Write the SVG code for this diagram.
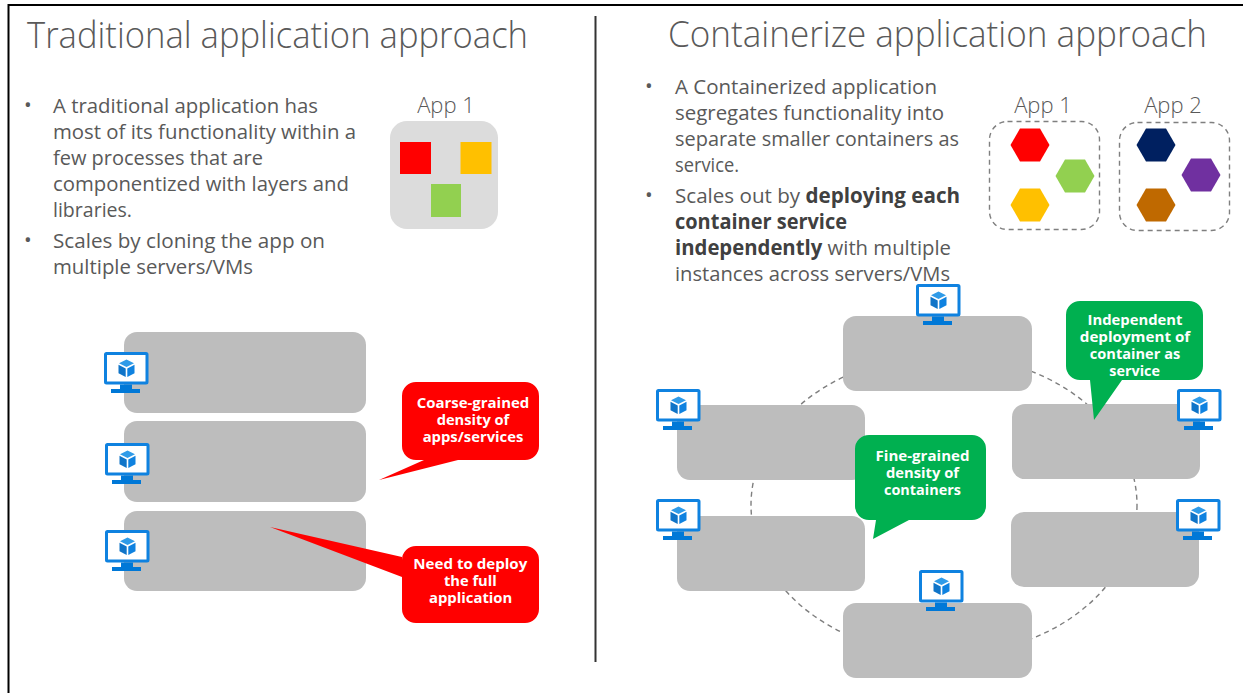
<svg xmlns="http://www.w3.org/2000/svg" xmlns:xlink="http://www.w3.org/1999/xlink" width="1243" height="693" viewBox="0 0 1243 693">
<style>
text{font-family:"Open Sans","Noto Sans","Liberation Sans",sans-serif}
.title{font-size:37px;font-weight:300;fill:#595959}
.body{font-size:20.5px;fill:#595959}
.b{font-weight:700;fill:#404040}
.app{font-size:22px;font-weight:300;fill:#595959;text-anchor:middle}
.call{font-size:14.5px;font-weight:700;fill:#fff}
.srv{fill:#bdbdbd}
.red{fill:#ff0000}
.grn{fill:#00b050}
.dash{fill:none;stroke:#7f7f7f;stroke-width:1.4;stroke-dasharray:5 4}
</style>
<defs>
<symbol id="mon" width="45" height="42" viewBox="0 0 45 42" overflow="visible">
<rect x="1.500" y="1.500" width="41.500" height="29.500" fill="#fff" stroke="#0f82e0" stroke-width="3" rx="1"/>
<path d="M16 32.500h12v4.500h8v4h-29v-4h9z" fill="#0078d7"/>
<path d="M22.500 7.500l7.500 3.800-7.500 3.800-7.500-3.800z" fill="#2f9be8"/>
<path d="M14.500 12.800l7.200 3.700v8.500l-7.200-3.800z" fill="#0f74c8"/>
<path d="M30.500 12.800l-7.200 3.700v8.500l7.200-3.800z" fill="#0f82e0"/>
</symbol>
<polygon id="hex" points="-19.500,0 -10,-16.500 10,-16.500 19.500,0 10,16.500 -10,16.500"/>
</defs>
<rect width="1243" height="693" fill="#fff"/>
<path d="M8.500 693V5H1243" fill="none" stroke="#000" stroke-width="2"/>
<path d="M595.500 16V662" stroke="#333" stroke-width="2" fill="none"/>

<g id="connectors"><ellipse class="dash" cx="944" cy="505" rx="193" ry="150"/></g>

<text class="title" x="27" y="47.500" textLength="501" lengthAdjust="spacingAndGlyphs">Traditional application approach</text>
<text class="title" x="668" y="46.500" textLength="539" lengthAdjust="spacingAndGlyphs">Containerize application approach</text>

<g id="left-text" class="body">
<text x="24" y="112">•</text>
<text x="53" y="112.500" textLength="265" lengthAdjust="spacingAndGlyphs">A traditional application has</text>
<text x="53" y="138.500" textLength="303" lengthAdjust="spacingAndGlyphs">most of its functionality within a</text>
<text x="53" y="164.500" textLength="210" lengthAdjust="spacingAndGlyphs">few processes that are</text>
<text x="53" y="190.500" textLength="296" lengthAdjust="spacingAndGlyphs">componentized with layers and</text>
<text x="53" y="216.500" textLength="79" lengthAdjust="spacingAndGlyphs">libraries.</text>
<text x="24" y="247">•</text>
<text x="53" y="247.500" textLength="272" lengthAdjust="spacingAndGlyphs">Scales by cloning the app on</text>
<text x="53" y="273.500" textLength="200" lengthAdjust="spacingAndGlyphs">multiple servers/VMs</text>
</g>

<g id="right-text" class="body">
<text x="645" y="93">•</text>
<text x="675" y="93.500" textLength="262" lengthAdjust="spacingAndGlyphs">A Containerized application</text>
<text x="675" y="119.500" textLength="269" lengthAdjust="spacingAndGlyphs">segregates functionality into</text>
<text x="675" y="145.500" textLength="284" lengthAdjust="spacingAndGlyphs">separate smaller containers as</text>
<text x="675" y="171.500" textLength="64" lengthAdjust="spacingAndGlyphs">service.</text>
<text x="645" y="202">•</text>
<text x="675" y="202.500" textLength="285" lengthAdjust="spacingAndGlyphs">Scales out by <tspan class="b">deploying each</tspan></text>
<text x="675" y="228.500" class="b" textLength="172" lengthAdjust="spacingAndGlyphs">container service</text>
<text x="675" y="254.500" textLength="276" lengthAdjust="spacingAndGlyphs"><tspan class="b">independently</tspan> with multiple</text>
<text x="675" y="280.500" textLength="275" lengthAdjust="spacingAndGlyphs">instances across servers/VMs</text>
</g>

<g id="app1-traditional">
<text class="app" x="446" y="113">App 1</text>
<rect x="390" y="121" width="108" height="108" rx="17" fill="#dcdcdc"/>
<rect x="400" y="142" width="31" height="32" fill="#ff0000"/>
<rect x="460.500" y="142" width="31" height="32" fill="#ffc000"/>
<rect x="431" y="184" width="30" height="33" fill="#92d050"/>
</g>

<g id="app1-containers">
<text class="app" x="1043" y="113">App 1</text>
<rect class="dash" x="989.500" y="121.500" width="110" height="108" rx="18" stroke-dasharray="7 3"/>
<use xlink:href="#hex" href="#hex" x="1030" y="145" fill="#ff0000"/>
<use xlink:href="#hex" href="#hex" x="1075" y="176" fill="#92d050"/>
<use xlink:href="#hex" href="#hex" x="1030" y="205" fill="#ffc000"/>
</g>
<g id="app2-containers">
<text class="app" x="1173" y="113">App 2</text>
<rect class="dash" x="1119.500" y="122.500" width="110" height="108" rx="18" stroke-dasharray="7 3"/>
<use xlink:href="#hex" href="#hex" x="1156" y="145" fill="#002060"/>
<use xlink:href="#hex" href="#hex" x="1201" y="175" fill="#7030a0"/>
<use xlink:href="#hex" href="#hex" x="1156" y="205" fill="#bf6900"/>
</g>

<g id="server-l1"><rect class="srv" x="124" y="332" width="242" height="81" rx="13"/><use href="#mon" x="104" y="352"/></g>
<g id="server-l2"><rect class="srv" x="124" y="421" width="242" height="81" rx="13"/><use href="#mon" x="105" y="443"/></g>
<g id="server-l3"><rect class="srv" x="124" y="511" width="242" height="80" rx="13"/><use href="#mon" x="105" y="530"/></g>

<g id="server-top"><rect class="srv" x="843" y="316" width="189" height="75" rx="13"/><use href="#mon" x="916" y="284"/></g>
<g id="server-r1"><rect class="srv" x="1012" y="404" width="188" height="75" rx="13"/><use href="#mon" x="1177" y="389"/></g>
<g id="server-r2"><rect class="srv" x="1011" y="512" width="188" height="75" rx="13"/><use href="#mon" x="1176" y="499"/></g>
<g id="server-bottom"><rect class="srv" x="843" y="603" width="189" height="75" rx="13"/><use href="#mon" x="919" y="570"/></g>
<g id="server-l-b"><rect class="srv" x="677" y="516" width="188" height="75" rx="13"/><use href="#mon" x="656" y="499"/></g>
<g id="server-l-a"><rect class="srv" x="677" y="405" width="188" height="75" rx="13"/><use href="#mon" x="656" y="389"/></g>

<g id="callout-coarse">
<path class="red" d="M416 382H525a14 14 0 0 1 14 14V446a14 14 0 0 1-14 14H458L379 480L424 460H416a14 14 0 0 1-14-14V396a14 14 0 0 1 14-14z"/>
<text class="call" x="416.700" y="408" textLength="112.600" lengthAdjust="spacingAndGlyphs">Coarse-grained</text><text class="call" x="436.700" y="425" textLength="72.600" lengthAdjust="spacingAndGlyphs">density of</text><text class="call" x="422.700" y="442" textLength="100.600" lengthAdjust="spacingAndGlyphs">apps/services</text>
</g>
<g id="callout-deploy">
<path class="red" d="M416 546H525a14 14 0 0 1 14 14V609a14 14 0 0 1-14 14H416a14 14 0 0 1-14-14V577L270 527L402 557V560a14 14 0 0 1 14-14z"/>
<text class="call" x="413.300" y="569" textLength="114" lengthAdjust="spacingAndGlyphs">Need to deploy</text><text class="call" x="444" y="586" textLength="52.700" lengthAdjust="spacingAndGlyphs">the full</text><text class="call" x="429" y="603" textLength="83.300" lengthAdjust="spacingAndGlyphs">application</text>
</g>
<g id="callout-independent">
<path class="grn" d="M1080 301H1189a14 14 0 0 1 14 14V366a14 14 0 0 1-14 14H1122L1094 420L1090 380H1080a14 14 0 0 1-14-14V315a14 14 0 0 1 14-14z"/>
<text class="call" x="1087.500" y="325" textLength="95" lengthAdjust="spacingAndGlyphs">Independent</text><text class="call" x="1079.800" y="342" textLength="110.400" lengthAdjust="spacingAndGlyphs">deployment of</text><text class="call" x="1089.800" y="359" textLength="90.400" lengthAdjust="spacingAndGlyphs">container as</text><text class="call" x="1109.300" y="376" textLength="50.600" lengthAdjust="spacingAndGlyphs">service</text>
</g>
<g id="callout-fine">
<path class="grn" d="M869 435H972a14 14 0 0 1 14 14V506a14 14 0 0 1-14 14H909L873 539L876 520H869a14 14 0 0 1-14-14V449a14 14 0 0 1 14-14z"/>
<text class="call" x="875.600" y="460.500" textLength="93.900" lengthAdjust="spacingAndGlyphs">Fine-grained</text><text class="call" x="886" y="477.500" textLength="73" lengthAdjust="spacingAndGlyphs">density of</text><text class="call" x="884" y="494.500" textLength="77" lengthAdjust="spacingAndGlyphs">containers</text>
</g>
</svg>
